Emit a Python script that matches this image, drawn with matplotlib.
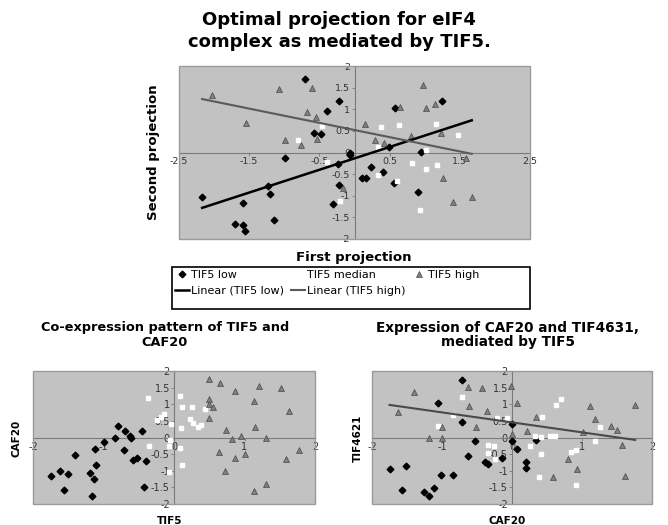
import matplotlib
matplotlib.use("Agg")
import matplotlib.pyplot as plt
from matplotlib.patches import Rectangle
import numpy as np

# ---------------- DATA ----------------
# Main chart: Optimal projection
low_x = [-0.71, -0.22, -0.39, -0.58, -0.48, -0.99, -0.07, -0.06, -0.24, -0.22, -0.30, -1.20, -1.23,
         -1.59, -1.15, -1.70, -1.59, -1.56, -2.17, 0.58, 1.24, 0.10, 0.17, 0.23, 0.41, 0.49, 0.56, 0.90, 0.95]
low_y = [1.69, 1.18, 0.95, 0.45, 0.42, -0.12, -0.05, 0.00, -0.27, -0.75, -1.18, -0.95, -0.78,
         -1.16, -1.55, -1.65, -1.68, -1.81, -1.02, 1.03, 1.19, -0.60, -0.60, -0.34, -0.44, 0.13, -0.70, -0.92, 0.02]
high_x = [-2.03, -1.54, -1.08, -0.61, -0.68, -0.55, -0.99, -0.76, -0.53, -0.16, 0.15, 0.29, 0.42, 0.65,
          0.98, 1.02, 1.14, 0.80, 1.23, 1.26, 1.40, 1.59, 1.67]
high_y = [1.32, 0.68, 1.47, 1.50, 0.93, 0.82, 0.28, 0.18, 0.32, -0.82, 0.65, 0.28, 0.23, 1.05,
          1.55, 1.02, 1.12, 0.38, 0.45, -0.60, -1.15, -0.13, -1.02]
med_x = [-0.80, -0.46, -0.39, -0.21, 0.38, 0.64, 1.16, 1.47, 0.34, 0.34, 0.60, 0.82, 1.02, 1.17, 0.93, 1.02]
med_y = [0.29, 0.62, -0.21, -1.13, 0.58, 0.64, 0.65, 0.41, 0.12, -0.52, -0.67, -0.25, -0.38, -0.30, -1.32, 0.06]
trend_low = (0.527, -0.136)    # slope, intercept
trend_high = (-0.33, 0.52)

# Bottom-left: TIF5 vs CAF20
bl_low_x = [-1.75, -1.61, -1.50, -1.56, -1.40, -1.19, -1.13, -1.10, -1.12, -1.16, -0.99, -0.83, -0.80,
            -0.71, -0.70, -0.63, -0.61, -0.58, -0.53, -0.45, -0.40, -0.42]
bl_low_y = [-1.17, -1.00, -1.11, -1.57, -0.53, -1.06, -1.25, -0.84, -0.34, -1.75, -0.15, 0.00, 0.35,
            -0.38, 0.20, 0.05, 0.00, -0.69, -0.62, 0.20, -0.72, -1.50]
bl_med_x = [-0.37, -0.24, -0.19, -0.14, -0.04, -0.35, -0.07, -0.05, -0.07, 0.08, 0.11, 0.26, 0.10, 0.23,
            0.27, 0.34, 0.38, 0.44, 0.08, 0.11]
bl_med_y = [1.20, 0.53, 0.63, 0.70, 0.40, -0.25, -0.25, -0.08, -1.05, 1.25, 0.93, 0.93, 0.28, 0.55,
            0.43, 0.33, 0.38, 0.86, -0.32, -0.83]
bl_high_x = [0.49, 0.65, 0.86, 1.20, 1.52, 0.49, 0.50, 0.55, 0.49, 1.13, 1.63, 0.74, 1.15, 0.95, 0.82,
             1.31, 0.64, 0.86, 1.01, 1.59, 1.77, 0.72, 1.31, 1.14]
bl_high_y = [1.75, 1.63, 1.40, 1.56, 1.50, 1.17, 1.00, 0.93, 0.59, 1.10, 0.80, 0.22, 0.33, 0.06, -0.06,
             0.00, -0.44, -0.62, -0.50, -0.64, -0.37, -1.00, -1.40, -1.62]

# Bottom-right: CAF20 vs TIF4621
br_low_x = [-1.75, -1.51, -1.57, -1.26, -1.18, -1.11, -1.01, -0.84, -1.06, -0.71, -0.72, -0.63, -0.53,
            -0.38, -0.34, -0.15, 0.00, 0.00, 0.07, 0.20, 0.20, 0.34]
br_low_y = [-0.94, -0.86, -1.58, -1.64, -1.77, -1.52, -1.14, -1.12, 1.04, 1.73, 0.46, -0.55, -0.12,
            -0.74, -0.81, -0.62, 0.42, -0.11, -0.34, -0.73, -0.93, -0.08]
br_high_x = [-1.63, -1.40, -1.18, -1.00, -1.00, -0.63, -0.62, -0.52, -0.43, -0.36, 0.00, -0.02, 0.07,
             0.34, 0.22, 1.11, 1.18, 1.01, 1.41, 1.50, 1.76, 1.57, 0.80, 0.93, 0.58, 1.62]
br_high_y = [0.78, 1.38, 0.00, 0.33, -0.02, 1.53, 0.95, 0.33, 1.48, 0.81, 0.11, 1.55, 1.03,
             0.61, 0.20, 0.95, 0.56, 0.18, 0.34, 0.24, 0.97, -0.24, -0.66, -0.95, -1.20, -1.15]
br_med_x = [-0.72, -1.06, -0.85, -0.35, -0.26, -0.35, -0.25, -0.22, -0.07, 0.70, 0.63, 0.43, 1.25, 0.33,
            0.41, 0.54, 0.62, 0.26, 0.41, 0.84, 0.92, 1.19, 0.38, 0.92]
br_med_y = [1.23, 0.36, 0.68, -0.22, -0.26, -0.47, -0.65, 0.60, 0.60, 1.15, 0.98, 0.61, 0.32, 0.05,
            0.03, 0.06, 0.06, -0.27, -0.49, -0.45, -0.39, -0.10, -1.20, -1.42]
trend_br = (-0.30, 0.455)

main_xticks = [-2.5, -1.5, -0.5, 0.5, 1.5, 2.5]
main_yticks = [-2, -1.5, -1, -0.5, 0, 0.5, 1, 1.5, 2]
small_xticks = [-2, -1, 0, 1, 2]
small_yticks = [-2, -1.5, -1, -0.5, 0, 0.5, 1, 1.5, 2]

# ---------------- STYLE ----------------
plt.rcParams['font.family'] = ['DejaVu Sans']
BG = '#c2c2c2'
TRI_FC = '#7f7f7f'
TRI_EC = '#4a4a4a'
TICK_C = '#333333'

fig = plt.figure(figsize=(6.68, 5.25), dpi=100)


def style_axes(ax, xlim, ylim, xticks, yticks, fs):
    ax.set_facecolor(BG)
    ax.set_xlim(*xlim)
    ax.set_ylim(*ylim)
    for s in ('top', 'right'):
        ax.spines[s].set_visible(False)
    ax.spines['left'].set_position('zero')
    ax.spines['bottom'].set_position('zero')
    for s in ('left', 'bottom'):
        ax.spines[s].set_color('#7a7a7a')
        ax.spines[s].set_linewidth(0.8)
    ax.set_xticks(xticks)
    ax.set_yticks(yticks)
    ax.set_xticklabels([('%g' % v) for v in xticks])
    ax.set_yticklabels([('%g' % v) for v in yticks])
    ax.tick_params(axis='both', length=2, width=0.6, color='#7a7a7a', labelsize=fs,
                   labelcolor=TICK_C, pad=1)
    ax.add_patch(Rectangle((0, 0), 1, 1, transform=ax.transAxes, fill=False,
                           edgecolor='#9a9a9a', linewidth=1.0, clip_on=False, zorder=5))


def scatter_sets(ax, lx, ly, mx, my, hx, hy, s_low=3.4, s_tri=4.2, s_med=2.6):
    l1, = ax.plot(lx, ly, linestyle='none', marker='D', ms=s_low, mfc='black', mec='black',
                  label='TIF5 low', zorder=3)
    l2, = ax.plot(mx, my, linestyle='none', marker='s', ms=s_med, mfc='white', mec='white',
                  label='TIF5 median', zorder=3)
    l3, = ax.plot(hx, hy, linestyle='none', marker='^', ms=s_tri, mfc=TRI_FC, mec=TRI_EC,
                  mew=0.5, label='TIF5 high', zorder=3)
    return l1, l2, l3


# ---------- main chart ----------
ax = fig.add_axes([179 / 668, 1 - 239 / 525, 351 / 668, 173 / 525])
style_axes(ax, (-2.5, 2.5), (-2, 2), main_xticks, main_yticks, 6.8)
h_low, h_med, h_high = scatter_sets(ax, low_x, low_y, med_x, med_y, high_x, high_y)
all_x = low_x + med_x + high_x
xr = np.array([min(all_x), max(all_x)])
h_tl, = ax.plot(xr, trend_low[0] * xr + trend_low[1], color='black', lw=1.8,
                label='Linear (TIF5 low)', zorder=4)
h_th, = ax.plot(xr, trend_high[0] * xr + trend_high[1], color='#5a5a5a', lw=1.5,
                label='Linear (TIF5 high)', zorder=4)
ax.set_ylabel('Second projection', fontsize=9.5, fontweight='bold', labelpad=0)
ax.yaxis.set_label_coords(-0.055, 0.5)
fig.text(354 / 668, 1 - 258 / 525, 'First projection', ha='center', va='center',
         fontsize=9.5, fontweight='bold')
fig.text(339 / 668, 1 - 31 / 525, 'Optimal projection for eIF4\ncomplex as mediated by TIF5.',
         ha='center', va='center', fontsize=13, fontweight='bold', linespacing=1.25)

leg = fig.legend([h_low, h_tl, h_med, h_th, h_high],
                 ['TIF5 low', 'Linear (TIF5 low)', 'TIF5 median', 'Linear (TIF5 high)', 'TIF5 high'],
                 ncol=3, loc='upper left',
                 bbox_to_anchor=(172 / 668, 1 - 267 / 525),
                 fontsize=8, frameon=False,
                 handlelength=1.3, handletextpad=0.15, labelspacing=0.55, borderpad=0.25,
                 borderaxespad=0, columnspacing=0.6)
fig.patches.append(Rectangle((172 / 668, 1 - 309 / 525), 358 / 668, 42 / 525,
                             transform=fig.transFigure, fill=False, edgecolor='black',
                             linewidth=1.2, figure=fig))

# ---------- bottom-left ----------
ax2 = fig.add_axes([33 / 668, 1 - 504 / 525, 282 / 668, 133 / 525])
style_axes(ax2, (-2, 2), (-2, 2), small_xticks, small_yticks, 7)
scatter_sets(ax2, bl_low_x, bl_low_y, bl_med_x, bl_med_y, bl_high_x, bl_high_y)
fig.text(165 / 668, 1 - 335 / 525, 'Co-expression pattern of TIF5 and\nCAF20', ha='center',
         va='center', fontsize=9.3, fontweight='bold', linespacing=1.1)
fig.text(17 / 668, 1 - 438 / 525, 'CAF20', rotation=90, ha='center', va='center',
         fontsize=7.5, fontweight='bold')
fig.text(170 / 668, 1 - 521 / 525, 'TIF5', ha='center', va='center', fontsize=7.5,
         fontweight='bold')

# ---------- bottom-right ----------
ax3 = fig.add_axes([372 / 668, 1 - 504 / 525, 280 / 668, 133 / 525])
style_axes(ax3, (-2, 2), (-2, 2), small_xticks, small_yticks, 7)
scatter_sets(ax3, br_low_x, br_low_y, br_med_x, br_med_y, br_high_x, br_high_y)
all_br = br_low_x + br_med_x + br_high_x
xr3 = np.array([min(all_br), max(all_br)])
ax3.plot(xr3, trend_br[0] * xr3 + trend_br[1], color='#4a4a4a', lw=1.5, zorder=4)
fig.text(508 / 668, 1 - 335 / 525, 'Expression of CAF20 and TIF4631,\nmediated by TIF5', ha='center',
         va='center', fontsize=9.8, fontweight='bold', linespacing=1.05)
fig.text(358 / 668, 1 - 438 / 525, 'TIF4621', rotation=90, ha='center', va='center',
         fontsize=7.5, fontweight='bold')
fig.text(507 / 668, 1 - 521 / 525, 'CAF20', ha='center', va='center', fontsize=7.5,
         fontweight='bold')

fig.savefig('out.png', dpi=100, facecolor='white')
